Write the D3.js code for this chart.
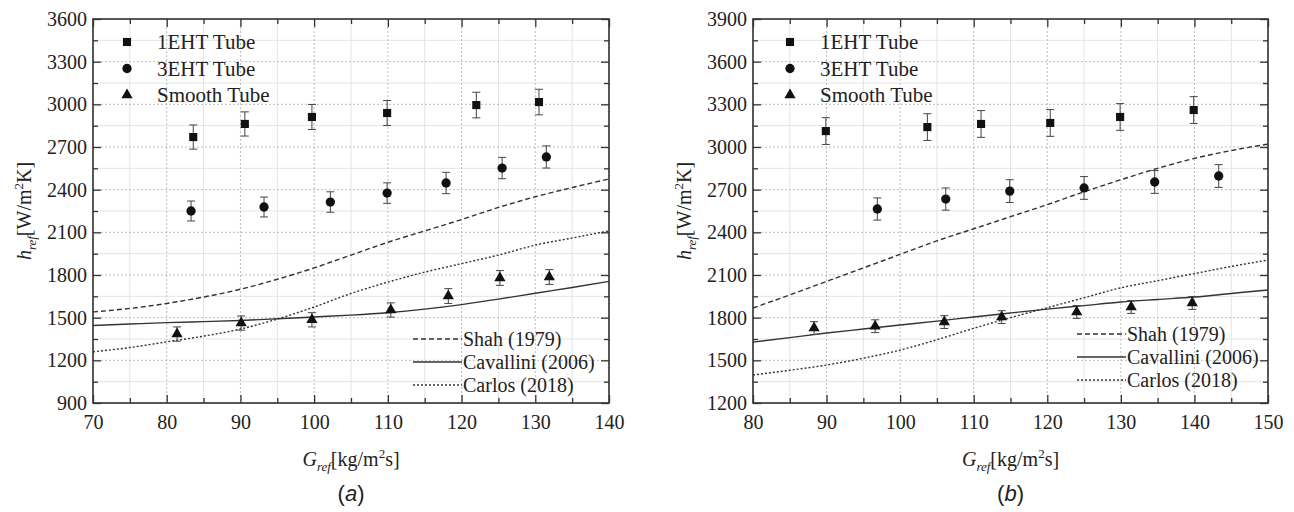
<!DOCTYPE html>
<html>
<head>
<meta charset="utf-8">
<script src="https://cdn.jsdelivr.net/npm/d3@7/dist/d3.min.js"></script>
</head>
<body style="margin:0; background:#fff">
<div id="canvas"></div>
<script>
// Panel (a) measured points
const aSquareX = [83.6, 90.6, 99.7, 109.9, 122.0, 130.5];
const aSquareY = [2770, 2862, 2911, 2939, 2995, 3016];
const aSquareErr = [85, 85, 88, 88, 90, 90];
const aCircleX = [83.3, 93.2, 102.2, 109.9, 117.9, 125.5, 131.5];
const aCircleY = [2250, 2278, 2313, 2376, 2447, 2552, 2630];
const aCircleErr = [70, 70, 72, 72, 75, 75, 78];
const aTriX = [81.4, 90.1, 99.7, 110.4, 118.2, 125.2, 131.9];
const aTriY = [1385, 1462, 1485, 1554, 1652, 1779, 1786];
const aTriErr = [50, 50, 50, 50, 52, 52, 52];

// Panel (a) correlations, one value every 5 kg/m2s from 70 to 140
const aCurveX = [70, 75, 80, 85, 90, 95, 100, 105, 110, 115, 120, 125, 130, 135, 140];
const aShah = [1540, 1565, 1600, 1645, 1700, 1770, 1850, 1940, 2030, 2110, 2190, 2275, 2350, 2415, 2475];
const aCavallini = [1445, 1455, 1465, 1472, 1480, 1492, 1505, 1518, 1535, 1560, 1592, 1630, 1672, 1712, 1755];
const aCarlos = [1260, 1290, 1330, 1370, 1420, 1490, 1575, 1670, 1750, 1820, 1880, 1940, 2010, 2060, 2110];

// Panel (b) measured points
const bSquareX = [89.9, 103.7, 111.0, 120.4, 129.9, 139.9];
const bSquareY = [3112, 3140, 3162, 3169, 3211, 3260];
const bSquareErr = [94, 94, 94, 94, 94, 94];
const bCircleX = [96.9, 106.2, 114.9, 125.0, 134.6, 143.3];
const bCircleY = [2564, 2634, 2690, 2712, 2754, 2796];
const bCircleErr = [78, 78, 80, 80, 80, 80];
const bTriX = [88.3, 96.6, 106.0, 113.8, 124.0, 131.4, 139.7];
const bTriY = [1727, 1740, 1769, 1804, 1840, 1875, 1903];
const bTriErr = [45, 45, 45, 45, 45, 45, 45];

// Panel (b) correlations, one value every 5 from 80 to 150
const bCurveX = [80, 85, 90, 95, 100, 105, 110, 115, 120, 125, 130, 135, 140, 145, 150];
const bShah = [1868, 1960, 2055, 2150, 2245, 2340, 2425, 2510, 2595, 2685, 2770, 2850, 2920, 2975, 3020];
const bCavallini = [1628, 1660, 1692, 1720, 1748, 1776, 1805, 1833, 1860, 1885, 1910, 1928, 1945, 1970, 1995];
const bCarlos = [1397, 1430, 1467, 1515, 1572, 1645, 1725, 1800, 1870, 1940, 2010, 2060, 2110, 2160, 2205];

const pointNames = ['1EHT Tube', '3EHT Tube', 'Smooth Tube'];
const curveNames = ['Shah (1979)', 'Cavallini (2006)', 'Carlos (2018)'];

const SERIF = '"Liberation Serif", "Times New Roman", Tinos';
const SANS = '"Liberation Sans", Arial';

const svg = d3.select('#canvas')
  .append('svg')
  .attr('width', 1294)
  .attr('height', 512);

const zip = (xs, ys, es) => xs.map((x, i) => ({ x: x, y: ys[i], e: es ? es[i] : 0 }));

const dashFor = ['5,3', null, '2,2'];

// helper for a serif text element
function label(parent, size) {
  return parent.append('text')
    .attr('font-family', SERIF)
    .attr('font-size', size)
    .attr('fill', '#222');
}

function drawPanel(p) {
  const w = p.width, h = p.height;
  const g = svg.append('g').attr('transform', `translate(${p.left},${p.top})`);

  const x = d3.scaleLinear().domain(p.xDomain).range([0, w]);
  const y = d3.scaleLinear().domain(p.yDomain).range([h, 0]);

  const xMajor = d3.range(p.xDomain[0], p.xDomain[1] + 0.1, 10);
  const xMinor = d3.range(p.xDomain[0] + 5, p.xDomain[1], 10);
  const yMajor = d3.range(p.yDomain[0], p.yDomain[1] + 1, 300);
  const yMinor = d3.range(p.yDomain[0] + 150, p.yDomain[1], 300);

  // grid: minor light solid, major dotted
  const grid = g.append('g');
  grid.selectAll('.vmin').data(xMinor).enter().append('line')
    .attr('x1', d => x(d)).attr('x2', d => x(d)).attr('y1', 0).attr('y2', h)
    .style('stroke', '#e4e4e4').style('stroke-width', 1);
  grid.selectAll('.hmin').data(yMinor).enter().append('line')
    .attr('y1', d => y(d)).attr('y2', d => y(d)).attr('x1', 0).attr('x2', w)
    .style('stroke', '#e4e4e4').style('stroke-width', 1);
  grid.selectAll('.vmaj').data(xMajor).enter().append('line')
    .attr('x1', d => x(d)).attr('x2', d => x(d)).attr('y1', 0).attr('y2', h)
    .style('stroke', '#bdbdbd').style('stroke-width', 1).style('stroke-dasharray', '2,2');
  grid.selectAll('.hmaj').data(yMajor).enter().append('line')
    .attr('y1', d => y(d)).attr('y2', d => y(d)).attr('x1', 0).attr('x2', w)
    .style('stroke', '#bdbdbd').style('stroke-width', 1).style('stroke-dasharray', '2,2');

  // curves
  const line = d3.line()
    .x(d => x(d.x))
    .y(d => y(d.y))
    .curve(d3.curveMonotoneX);
  p.curves.forEach((c, i) => {
    g.append('path')
      .datum(zip(p.curveX, c))
      .attr('d', line)
      .style('fill', 'none')
      .style('stroke', '#333')
      .style('stroke-width', 1.4)
      .style('stroke-dasharray', dashFor[i]);
  });

  // error bars + markers
  const markerSym = [d3.symbolSquare, d3.symbolCircle, d3.symbolTriangle];
  const markerSize = [66, 68, 55];
  p.points.forEach((s, i) => {
    const data = zip(s[0], s[1], s[2]);
    const eb = g.append('g').style('stroke', '#444').style('stroke-width', 1);
    data.forEach(d => {
      eb.append('line').attr('x1', x(d.x)).attr('x2', x(d.x))
        .attr('y1', y(d.y - d.e)).attr('y2', y(d.y + d.e));
      eb.append('line').attr('x1', x(d.x) - 4).attr('x2', x(d.x) + 4)
        .attr('y1', y(d.y + d.e)).attr('y2', y(d.y + d.e));
      eb.append('line').attr('x1', x(d.x) - 4).attr('x2', x(d.x) + 4)
        .attr('y1', y(d.y - d.e)).attr('y2', y(d.y - d.e));
    });
    g.selectAll('.m' + i).data(data).enter().append('path')
      .attr('d', d3.symbol().type(markerSym[i]).size(markerSize[i]))
      .attr('transform', d => `translate(${x(d.x)},${y(d.y)})`)
      .style('fill', '#111');
  });

  // frame and inward ticks
  const axisStyle = sel => {
    sel.attr('font-family', SERIF).attr('font-size', 20);
    sel.select('.domain').remove();
    sel.selectAll('line').style('stroke', '#333').style('stroke-width', 1.3);
    sel.selectAll('text').attr('fill', '#222');
  };
  g.append('g').attr('transform', `translate(0,${h})`)
    .call(d3.axisBottom(x).tickValues(xMajor).tickSize(-8).tickPadding(12).tickFormat(d3.format('d')))
    .call(axisStyle);
  g.append('g').attr('transform', `translate(0,${h})`)
    .call(d3.axisBottom(x).tickValues(xMinor).tickSize(-5).tickFormat(''))
    .call(axisStyle);
  g.append('g')
    .call(d3.axisTop(x).tickValues(xMajor).tickSize(-8).tickFormat(''))
    .call(axisStyle);
  g.append('g')
    .call(d3.axisTop(x).tickValues(xMinor).tickSize(-5).tickFormat(''))
    .call(axisStyle);
  g.append('g')
    .call(d3.axisLeft(y).tickValues(yMajor).tickSize(-8).tickPadding(6).tickFormat(d3.format('d')))
    .call(axisStyle);
  g.append('g')
    .call(d3.axisLeft(y).tickValues(yMinor).tickSize(-5).tickFormat(''))
    .call(axisStyle);
  g.append('g').attr('transform', `translate(${w},0)`)
    .call(d3.axisRight(y).tickValues(yMajor).tickSize(-8).tickFormat(''))
    .call(axisStyle);
  g.append('g').attr('transform', `translate(${w},0)`)
    .call(d3.axisRight(y).tickValues(yMinor).tickSize(-5).tickFormat(''))
    .call(axisStyle);

  g.append('rect')
    .attr('width', w).attr('height', h)
    .style('fill', 'none').style('stroke', '#333').style('stroke-width', 1.6);

  // legend: marker series
  p.points.forEach((s, i) => {
    const ly = p.legTop + i * 26.5;
    g.append('path')
      .attr('d', d3.symbol().type(markerSym[i]).size(markerSize[i]))
      .attr('transform', `translate(${p.legSymX},${ly})`)
      .style('fill', '#111');
    label(g, 21)
      .attr('x', p.legSymX + 30).attr('y', ly).attr('dy', '0.35em')
      .text(pointNames[i]);
  });

  // legend: curves
  curveNames.forEach((name, i) => {
    const ly = p.legLineTop + i * 23;
    g.append('line')
      .attr('x1', p.legLineX).attr('x2', p.legLineX + 49)
      .attr('y1', ly).attr('y2', ly)
      .style('stroke', '#333').style('stroke-width', 1.4)
      .style('stroke-dasharray', dashFor[i]);
    label(g, 20)
      .attr('x', p.legLineX + 50).attr('y', ly).attr('dy', '0.35em')
      .text(name);
  });

  // x title
  const xt = label(g, 20)
    .attr('x', w / 2).attr('y', h + 63)
    .attr('text-anchor', 'middle');
  xt.append('tspan').attr('font-style', 'italic').text('G');
  xt.append('tspan').attr('font-style', 'italic').attr('font-size', 13).attr('dy', 5).text('ref');
  xt.append('tspan').attr('dy', -5).text('[kg/m');
  xt.append('tspan').attr('font-size', 13).attr('dy', -8).text('2');
  xt.append('tspan').attr('dy', 8).text('s]');

  // y title
  const yt = label(g, 20)
    .attr('transform', `translate(-62,${h / 2}) rotate(-90)`)
    .attr('text-anchor', 'middle');
  yt.append('tspan').attr('font-style', 'italic').text('h');
  yt.append('tspan').attr('font-style', 'italic').attr('font-size', 13).attr('dy', 5).text('ref');
  yt.append('tspan').attr('dy', -5).text('[W/m');
  yt.append('tspan').attr('font-size', 13).attr('dy', -8).text('2');
  yt.append('tspan').attr('dy', 8).text('K]');

  // panel caption
  const cap = g.append('text')
    .attr('x', w / 2).attr('y', h + 98)
    .attr('text-anchor', 'middle')
    .attr('font-family', SANS)
    .attr('font-size', 22)
    .attr('fill', '#222');
  cap.append('tspan').text('(');
  cap.append('tspan').attr('font-style', 'italic').text(p.caption);
  cap.append('tspan').text(')');
}

drawPanel({
  left: 93, top: 19, width: 516, height: 384,
  xDomain: [70, 140], yDomain: [900, 3600],
  points: [[aSquareX, aSquareY, aSquareErr], [aCircleX, aCircleY, aCircleErr], [aTriX, aTriY, aTriErr]],
  curveX: aCurveX,
  curves: [aShah, aCavallini, aCarlos],
  legSymX: 34, legTop: 23,
  legLineX: 320, legLineTop: 320,
  caption: 'a'
});

drawPanel({
  left: 753, top: 19, width: 515, height: 384,
  xDomain: [80, 150], yDomain: [1200, 3900],
  points: [[bSquareX, bSquareY, bSquareErr], [bCircleX, bCircleY, bCircleErr], [bTriX, bTriY, bTriErr]],
  curveX: bCurveX,
  curves: [bShah, bCavallini, bCarlos],
  legSymX: 37, legTop: 23,
  legLineX: 324, legLineTop: 315,
  caption: 'b'
});
</script>
</body>
</html>
